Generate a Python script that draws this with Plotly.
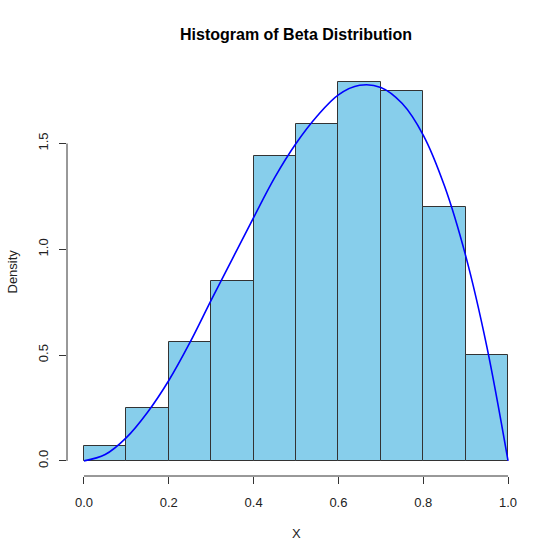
import plotly.graph_objects as go

# Data
bin_edges = [0.0, 0.1, 0.2, 0.3, 0.4, 0.5, 0.6, 0.7, 0.8, 0.9, 1.0]
densities = [0.07, 0.25, 0.56, 0.85, 1.44, 1.59, 1.79, 1.75, 1.20, 0.50]
curve_x = [0.0, 0.05, 0.1, 0.15, 0.2, 0.25, 0.3, 0.35, 0.4, 0.45, 0.5,
           0.55, 0.6, 0.65, 0.7, 0.75, 0.8, 0.85, 0.9, 0.95, 1.0]
curve_y = [0.0, 0.03, 0.11, 0.23, 0.38, 0.56, 0.76, 0.955, 1.15, 1.34, 1.5,
           1.63, 1.73, 1.775, 1.765, 1.69, 1.54, 1.30, 0.97, 0.54, 0.0]
x_ticks = [0.0, 0.2, 0.4, 0.6, 0.8, 1.0]
y_ticks = [0.0, 0.5, 1.0, 1.5]

centers = [(a + b) / 2 for a, b in zip(bin_edges[:-1], bin_edges[1:])]
widths = [b - a for a, b in zip(bin_edges[:-1], bin_edges[1:])]

FONT = "Liberation Sans, Arial, sans-serif"

fig = go.Figure()
fig.add_trace(go.Bar(
    x=centers, y=densities, width=widths,
    marker=dict(color="#87CEEB", line=dict(color="#333333", width=1)),
    hoverinfo="skip",
))
fig.add_trace(go.Scatter(
    x=curve_x, y=curve_y, mode="lines",
    line=dict(color="#0000FF", width=1.6, shape="spline"),
    hoverinfo="skip",
))

xr = [bin_edges[0] - 0.04 * (bin_edges[-1] - bin_edges[0]),
      bin_edges[-1] + 0.04 * (bin_edges[-1] - bin_edges[0])]
ymax = max(densities)
yr = [-0.04 * ymax, ymax * 1.04]

fig.update_layout(
    width=560, height=560,
    margin=dict(l=67, r=35, t=67, b=84),
    paper_bgcolor="white", plot_bgcolor="white",
    showlegend=False, bargap=0,
    font=dict(family=FONT, size=13, color="#000000"),
    title=dict(text="<b>Histogram of Beta Distribution</b>",
               x=0.5, xanchor="center", xref="paper",
               y=1 - 34 / 560, yanchor="middle", yref="container",
               font=dict(family=FONT, size=16, color="#000000")),
    xaxis=dict(range=xr, tickvals=x_ticks,
               ticktext=[f"{v:.1f}" for v in x_ticks],
               ticks="outside", ticklen=7, tickcolor="#333333", tickwidth=1,
               showgrid=False, zeroline=False, showline=False,
               ticklabelstandoff=7, tickfont=dict(size=13, color="#222222")),
    yaxis=dict(range=yr, tickvals=y_ticks,
               ticktext=[f"{v:.1f}" for v in y_ticks],
               ticks="outside", ticklen=7, tickcolor="#333333", tickwidth=1,
               tickangle=-90,
               showgrid=False, zeroline=False, showline=False,
               ticklabelstandoff=6, tickfont=dict(size=13, color="#222222")),
    shapes=[
        dict(type="line", xref="x", yref="paper", x0=x_ticks[0], x1=x_ticks[-1],
             y0=0, y1=0, line=dict(color="#333333", width=1)),
        dict(type="line", xref="paper", yref="y", x0=0, x1=0,
             y0=y_ticks[0], y1=y_ticks[-1], line=dict(color="#333333", width=1)),
    ],
    annotations=[
        dict(text="X", xref="paper", yref="paper", x=0.5, y=-(534 - 476.5) / (476.5 - 67),
             xanchor="center", yanchor="middle", showarrow=False,
             font=dict(size=13, color="#222222")),
        dict(text="Density", xref="paper", yref="paper",
             x=-(67 - 12) / (525 - 67), y=0.5, textangle=-90,
             xanchor="center", yanchor="middle", showarrow=False,
             font=dict(size=13, color="#222222")),
    ],
)

fig.write_html("out.html")
